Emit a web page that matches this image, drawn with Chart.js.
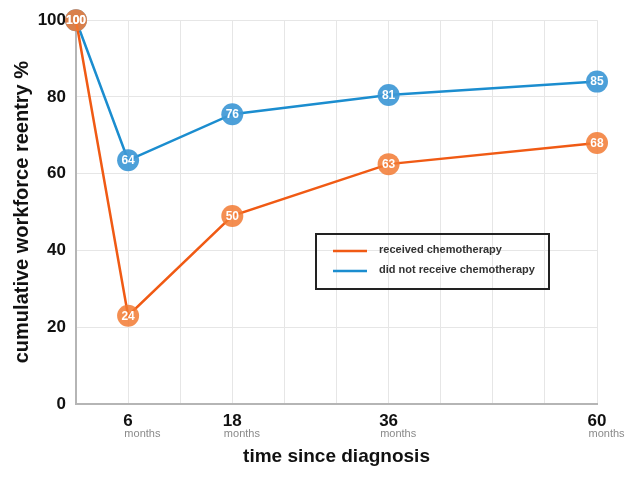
<!DOCTYPE html>
<html>
<head>
<meta charset="utf-8">
<script src="https://cdn.jsdelivr.net/npm/chart.js@4.4.1/dist/chart.umd.min.js"></script>
<style>
  html, body { margin: 0; padding: 0; background: #fff; }
  #wrap { width: 629px; height: 477px; }
</style>
</head>
<body>
<div id="wrap"><canvas id="chart" width="629" height="477"></canvas></div>
<script>
// data
var months = [0, 6, 18, 36, 60];
var chemo = [100, 23, 49, 62.5, 68];
var noChemo = [100, 63.5, 75.5, 80.5, 84];
var chemoLabels = ["100", "24", "50", "63", "68"];
var noChemoLabels = ["100", "64", "76", "81", "85"];
var xTickLabels = [6, 18, 36, 60];
var yTicks = [0, 20, 40, 60, 80, 100];

var FONT = "Arial, 'Liberation Sans', sans-serif";

// white numbers inside the points
var pointLabels = {
  id: "pointLabels",
  afterDatasetsDraw: function (chart) {
    var ctx = chart.ctx;
    var texts = [chemoLabels, noChemoLabels];
    ctx.save();
    ctx.font = "bold 12px " + FONT;
    ctx.fillStyle = "#fff";
    ctx.textAlign = "center";
    ctx.textBaseline = "middle";
    [1, 0].forEach(function (di) {
      chart.getDatasetMeta(di).data.forEach(function (pt, i) {
        ctx.fillText(texts[di][i], pt.x, pt.y + 0.5);
      });
    });
    ctx.restore();
  },
};

// "months" under each tick + boxed legend
var extras = {
  id: "extras",
  afterDraw: function (chart) {
    var ctx = chart.ctx;
    var xs = chart.scales.x;
    ctx.save();
    var w;
    xTickLabels.forEach(function (m) {
      var x = xs.getPixelForValue(m);
      ctx.font = "bold 17px " + FONT;
      w = ctx.measureText(String(m)).width;
      ctx.font = "11px " + FONT;
      ctx.fillStyle = "#8a8a8a";
      ctx.textAlign = "left";
      ctx.textBaseline = "middle";
      ctx.fillText("months", x - w / 2 + 1, 434);
    });

    // legend box
    ctx.strokeStyle = "#222";
    ctx.lineWidth = 2;
    ctx.strokeRect(316, 234, 233, 55);
    var items = [
      { text: "received chemotherapy", color: "#f05a14", y: 251 },
      { text: "did not receive chemotherapy", color: "#1b8dcf", y: 271 },
    ];
    items.forEach(function (it) {
      ctx.strokeStyle = it.color;
      ctx.lineWidth = 2.5;
      ctx.beginPath();
      ctx.moveTo(333, it.y);
      ctx.lineTo(367, it.y);
      ctx.stroke();
      ctx.font = "bold 11px " + FONT;
      ctx.fillStyle = "#333";
      ctx.textAlign = "left";
      ctx.textBaseline = "middle";
      ctx.fillText(it.text, 379, it.y - 1);
    });
    ctx.restore();
  },
};

new Chart(document.getElementById("chart").getContext("2d"), {
  type: "line",
  data: {
    labels: months,
    datasets: [
      {
        label: "received chemotherapy",
        data: months.map(function (m, i) { return { x: m, y: chemo[i] }; }),
        borderColor: "#f05a14",
        borderWidth: 2.5,
        pointRadius: 11,
        pointBackgroundColor: "rgba(242,122,50,0.85)",
        pointBorderWidth: 0,
        pointBorderColor: "rgba(0,0,0,0)",
        tension: 0,
        clip: false,
      },
      {
        label: "did not receive chemotherapy",
        data: months.map(function (m, i) { return { x: m, y: noChemo[i] }; }),
        borderColor: "#1b8dcf",
        borderWidth: 2.5,
        pointRadius: 11,
        pointBackgroundColor: "rgba(62,152,214,0.92)",
        pointBorderWidth: 0,
        pointBorderColor: "rgba(0,0,0,0)",
        tension: 0,
        clip: false,
      },
    ],
  },
  options: {
    responsive: false,
    animation: false,
    layout: { padding: { left: 0, right: 32, top: 17, bottom: 0 } },
    plugins: {
      legend: { display: false },
      tooltip: { enabled: false },
    },
    scales: {
      x: {
        type: "linear",
        min: 0,
        max: 60,
        afterFit: function (s) { s.height = 73; },
        grid: { color: "#e6e6e6", lineWidth: 1, drawTicks: false },
        border: { color: "#b5b5b5", width: 2 },
        ticks: {
          stepSize: 6,
          padding: 7,
          autoSkip: false,
          maxRotation: 0,
          color: "#111",
          font: { family: FONT, size: 17, weight: "bold" },
          callback: function (v) { return xTickLabels.indexOf(v) >= 0 ? String(v) : ""; },
        },
        title: {
          display: true,
          text: "time since diagnosis",
          color: "#111",
          font: { family: FONT, size: 19, weight: "bold" },
          padding: { top: 0, bottom: 9 },
        },
      },
      y: {
        min: 0,
        max: 100,
        afterFit: function (s) { s.width = 76; },
        grid: { color: "#e6e6e6", lineWidth: 1, drawTicks: false },
        border: { color: "#b5b5b5", width: 2 },
        afterBuildTicks: function (s) { s.ticks = yTicks.map(function (v) { return { value: v }; }); },
        ticks: {
          padding: 10,
          color: "#111",
          font: { family: FONT, size: 17, weight: "bold" },
        },
        title: {
          display: true,
          text: "cumulative workforce reentry %",
          color: "#111",
          font: { family: FONT, size: 20, weight: "bold" },
          padding: { top: 10, bottom: 0 },
        },
      },
    },
  },
  plugins: [pointLabels, extras],
});
</script>
</body>
</html>
